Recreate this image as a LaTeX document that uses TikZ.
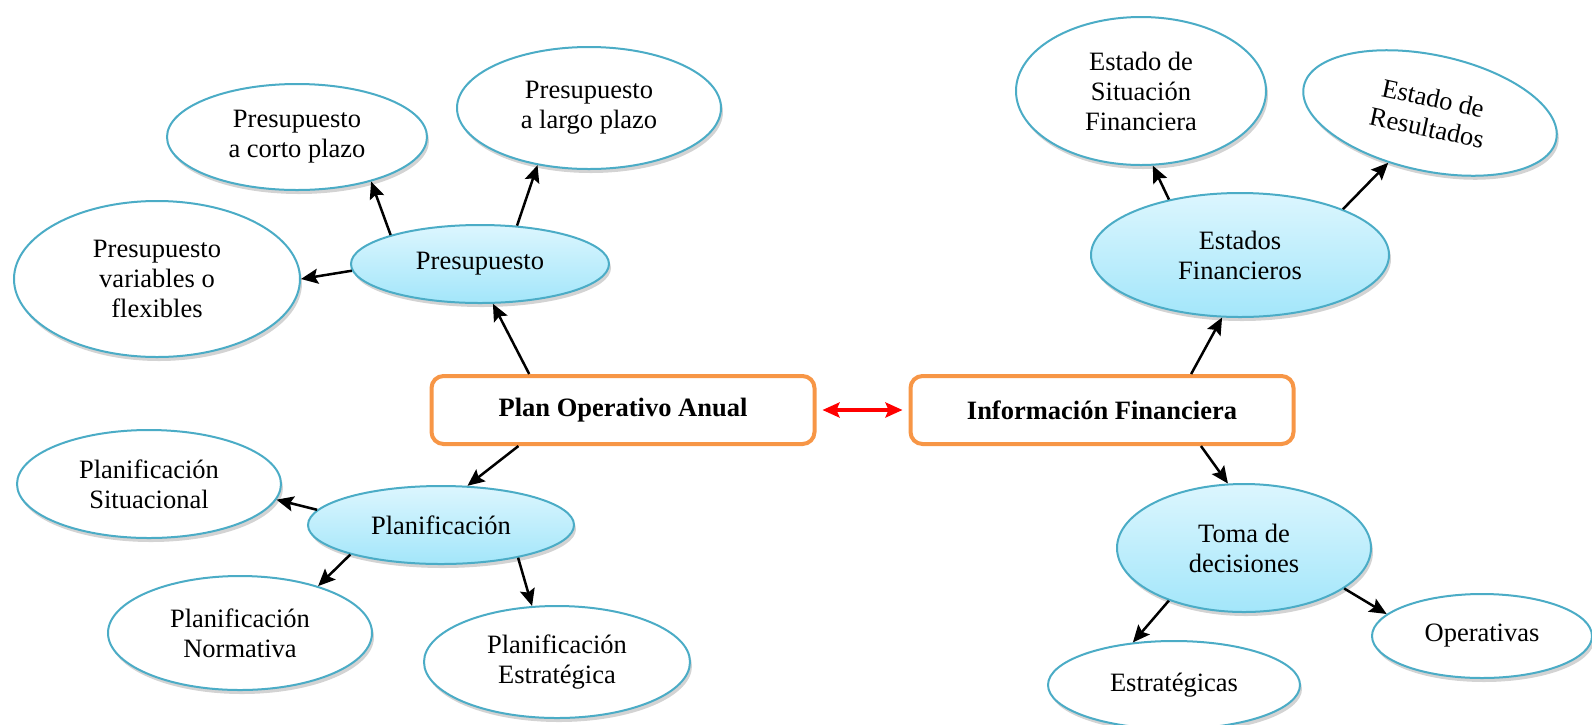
\documentclass[tikz,border=0pt]{standalone}
\usepackage{fontspec}
\setmainfont{Liberation Serif}
\usetikzlibrary{shapes,arrows.meta,shadows}
\definecolor{rimblue}{HTML}{4BACC6}
\definecolor{boxorange}{HTML}{F79646}
\definecolor{hubtop}{HTML}{DCF6FE}
\definecolor{hubbottom}{HTML}{A3E6FA}
\tikzstyle{leaf} = [ellipse, draw=rimblue, line width=2pt, fill=white, inner sep=0pt, align=center, drop shadow={shadow xshift=2pt, shadow yshift=-4pt, opacity=0.35}]
\tikzstyle{hub} = [leaf, top color=hubtop, bottom color=hubbottom]
\tikzstyle{block} = [rectangle, draw=boxorange, line width=4pt, rounded corners=12pt, fill=white, inner sep=0pt, font=\fontsize{26.5}{30}\selectfont\bfseries]
\tikzstyle{link} = [->, line width=2.5pt]

\begin{document}
\begin{tikzpicture}[x=1pt, y=-1pt, font=\fontsize{26.5}{30}\selectfont, >={Stealth[length=17pt,width=15pt,inset=3pt]}]
   \useasboundingbox (0,0) rectangle (1592,724);
   % Place nodes
   \node [block, minimum width=383pt, minimum height=68pt] (poa) at (623,410) {Plan Operativo Anual};
   \node [block, minimum width=383pt, minimum height=68pt] (inf) at (1102,410) {Información Financiera};
   % left side
   \node [hub, minimum width=258pt, minimum height=78pt] (pres) at (480,264) {Presupuesto};
   \node [leaf, minimum width=260pt, minimum height=106pt] (pcorto) at (297,137) {Presupuesto\\a corto plazo};
   \node [leaf, minimum width=264pt, minimum height=122pt] (plargo) at (589,108) {Presupuesto\\a largo plazo};
   \node [leaf, minimum width=286pt, minimum height=156pt] (pvar) at (157,279) {Presupuesto\\variables o\\flexibles};
   \node [hub, minimum width=266pt, minimum height=78pt] (plan) at (441,525) {Planificación};
   \node [leaf, minimum width=264pt, minimum height=108pt] (psit) at (149,484) {Planificación\\Situacional};
   \node [leaf, minimum width=264pt, minimum height=114pt] (pnorm) at (240,633) {Planificación\\Normativa};
   \node [leaf, minimum width=266pt, minimum height=112pt] (pestr) at (557,662) {Planificación\\Estratégica};
   % right side
   \node [hub, minimum width=298pt, minimum height=124pt] (efin) at (1240,255) {Estados\\Financieros};
   \node [leaf, minimum width=250pt, minimum height=148pt] (esit) at (1141,91) {Estado de\\Situación\\Financiera};
   \node [leaf, minimum width=258pt, minimum height=116pt, rotate=-12] (eres) at (1430,113) {Estado de\\Resultados};
   \node [hub, minimum width=254pt, minimum height=128pt] (toma) at (1244,548) {Toma de\\decisiones};
   \node [leaf, minimum width=252pt, minimum height=88pt] (estrat) at (1174,685) {Estratégicas};
   \node [leaf, minimum width=220pt, minimum height=84pt] (oper) at (1482,636) {Operativas};
   % Connectors
   \draw[link] (poa.159.7) -- (pres.288.9);
   \draw[link] (pres.162.3) -- (pcorto.-31);
   \draw[link] (pres.46.5) -- (plargo.228.5);
   \draw[link] (pres.183.6) -- (pvar.-0.4);
   \draw[link] (poa.199.7) -- (plan.56.9);
   \draw[link] (plan.173.6) -- (psit.-7);
   \draw[link] (plan.198.2) -- (pnorm.31.1);
   \draw[link] (plan.-23.2) -- (pestr.114.4);
   \draw[<->, red, line width=3.5pt, shorten <=6pt, shorten >=6pt] (poa.east) -- (inf.west);
   \draw[link] (inf.22.8) -- (efin.254.4);
   \draw[link] (efin.142.6) -- (esit.279.9);
   \draw[link] (efin.24) -- (eres.242.4);
   \draw[link] (inf.-20.3) -- (toma.104.9);
   \draw[link] (toma.215.7) -- (estrat.134.2);
   \draw[link] (toma.-22.7) -- (oper.167.5);
\end{tikzpicture}
\end{document}
